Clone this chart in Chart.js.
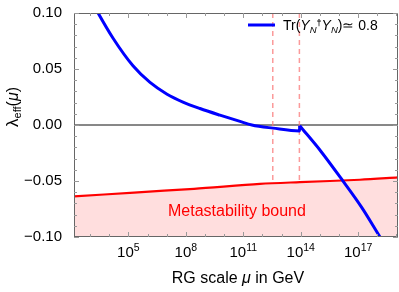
<!DOCTYPE html>
<html>
<head>
<meta charset="utf-8">
<script src="https://cdn.jsdelivr.net/npm/chart.js@4"></script>
<style>
  html, body { margin: 0; padding: 0; background: #fff; }
  #wrap { width: 399px; height: 292px; }
</style>
</head>
<body>
<div id="wrap"><canvas id="chart" width="399" height="292"></canvas></div>
<script>
// x values are log10(mu / GeV)
const xRange = [2.16, 19.08];
const yRange = [-0.1, 0.1];

// lambda_eff running, Tr(Yn+Yn) ~ 0.8 : up to the kink (incl. the jump) ...
const lambdaLowX = [3.2, 3.41, 4.20, 5.24, 6.13, 7.02, 7.85, 8.74, 9.78, 10.83, 11.45, 12.55, 13.94, 13.945];
const lambdaLowY = [0.107, 0.1003, 0.0775, 0.0529, 0.038, 0.0275, 0.0205, 0.0147, 0.0088, 0.0032, 0.0, -0.0028, -0.0053, -0.0006];
// ... and from the kink on
const lambdaHighX = [13.945, 15.05, 16.19, 17.2, 18.14, 18.4];
const lambdaHighY = [-0.0006, -0.0234, -0.0497, -0.074, -0.100, -0.107];

// metastability bound
const boundX = [2.16, 5.3, 8.43, 11.87, 13.96, 17.09, 19.08];
const boundY = [-0.0638, -0.0603, -0.057, -0.0526, -0.051, -0.0489, -0.0468];

// thresholds (dashed)
const thresholds = [12.54, 13.93];

const majorX = [5, 8, 11, 14, 17];
const yTicks = [-0.1, -0.05, 0, 0.05, 0.1];

const FONT = '"Liberation Sans", Arial, Helvetica, sans-serif';

const pts = (xs, ys) => xs.map((x, i) => ({ x: x, y: ys[i] }));
const boundAt = x => {
    for (let i = 1; i < boundX.length; i++) {
        if (x <= boundX[i]) {
            const t = (x - boundX[i - 1]) / (boundX[i] - boundX[i - 1]);
            return boundY[i - 1] + t * (boundY[i] - boundY[i - 1]);
        }
    }
    return boundY[boundY.length - 1];
};

// draws a list of text pieces one after the other
function richText(ctx, x, y, parts, align) {
    let w = 0;
    parts.forEach(p => { ctx.font = p.font; w += ctx.measureText(p.t).width; });
    let cx = align === 'center' ? x - w / 2 : x;
    parts.forEach(p => {
        ctx.font = p.font;
        ctx.fillText(p.t, cx, y + (p.dy || 0));
        cx += ctx.measureText(p.t).width;
    });
}

const extras = {
    id: 'extras',
    afterDraw(chart) {
        const ctx = chart.ctx;
        const a = chart.chartArea;
        const xs = chart.scales.x, ys = chart.scales.y;
        ctx.save();

        // frame
        ctx.strokeStyle = '#666';
        ctx.lineWidth = 1;
        ctx.strokeRect(a.left + 0.5, a.top + 0.5, a.right - a.left - 1, a.bottom - a.top - 1);

        // inner ticks
        ctx.strokeStyle = '#999';
        ctx.beginPath();
        for (let d = 3; d <= 19; d++) {
            const px = Math.round(xs.getPixelForValue(d)) + 0.5;
            const len = majorX.includes(d) ? 5 : 3;
            ctx.moveTo(px, a.bottom); ctx.lineTo(px, a.bottom - len);
            ctx.moveTo(px, a.top); ctx.lineTo(px, a.top + len);
        }
        for (let k = -10; k <= 10; k++) {
            const py = Math.round(ys.getPixelForValue(k / 100)) + 0.5;
            const len = k % 5 === 0 ? 5 : 3;
            ctx.moveTo(a.left, py); ctx.lineTo(a.left + len, py);
            ctx.moveTo(a.right, py); ctx.lineTo(a.right - len, py);
        }
        ctx.stroke();

        ctx.fillStyle = '#000';
        ctx.textBaseline = 'alphabetic';

        // x tick labels 10^n
        majorX.forEach(d => {
            const px = xs.getPixelForValue(d);
            richText(ctx, px, 257, [
                { t: '10', font: '15px ' + FONT },
                { t: String(d), font: '10.5px ' + FONT, dy: -6 }
            ], 'center');
        });

        // x title
        richText(ctx, 238, 283, [
            { t: 'RG scale ', font: '16px ' + FONT },
            { t: 'μ', font: 'italic 16px ' + FONT },
            { t: ' in GeV', font: '16px ' + FONT }
        ], 'center');

        // y title
        ctx.save();
        ctx.translate(18, 107);
        ctx.rotate(-Math.PI / 2);
        richText(ctx, 0, 0, [
            { t: 'λ', font: '17px ' + FONT },
            { t: 'eff', font: '11px ' + FONT, dy: 3 },
            { t: '(', font: '16px ' + FONT },
            { t: 'μ', font: 'italic 16px ' + FONT },
            { t: ')', font: '16px ' + FONT }
        ], 'center');
        ctx.restore();

        // region label
        ctx.fillStyle = '#ff0000';
        richText(ctx, xs.getPixelForValue(10.67), ys.getPixelForValue(-0.0815), [
            { t: 'Metastability bound', font: '16px ' + FONT }
        ], 'center');

        // legend
        ctx.strokeStyle = '#0000ff';
        ctx.lineWidth = 3;
        ctx.beginPath();
        ctx.moveTo(248, 25); ctx.lineTo(275, 25);
        ctx.stroke();
        ctx.fillStyle = '#000';
        richText(ctx, 283, 30, [
            { t: 'Tr(', font: '14px ' + FONT },
            { t: 'Y', font: 'italic 14px ' + FONT },
            { t: 'N', font: 'italic 9.5px ' + FONT, dy: 3 },
            { t: '†', font: 'bold 9px ' + FONT, dy: -4 },
            { t: 'Y', font: 'italic 14px ' + FONT },
            { t: 'N', font: 'italic 9.5px ' + FONT, dy: 3 },
            { t: ')≃ 0.8', font: '14px ' + FONT }
        ]);

        ctx.restore();
    }
};

const dashStyle = {
    borderColor: 'rgba(250, 120, 120, 0.75)',
    borderWidth: 1.5,
    borderDash: [5, 4],
    pointRadius: 0,
    fill: false
};

const blueStyle = {
    borderColor: '#0000ff',
    borderWidth: 3,
    pointRadius: 0,
    cubicInterpolationMode: 'monotone',
    fill: false
};

new Chart(document.getElementById('chart').getContext('2d'), {
    type: 'line',
    data: {
        datasets: [
            Object.assign({ label: 'Tr(YN†YN) ≃ 0.8', data: pts(lambdaLowX, lambdaLowY) }, blueStyle),
            Object.assign({ label: 'Tr(YN†YN) ≃ 0.8 (above)', data: pts(lambdaHighX, lambdaHighY) }, blueStyle),
            {
                label: 'Metastability bound',
                data: pts(boundX, boundY),
                borderColor: '#ff0000',
                borderWidth: 2.2,
                backgroundColor: 'rgba(255, 0, 0, 0.13)',
                pointRadius: 0,
                tension: 0.3,
                fill: 'start'
            },
            Object.assign({ label: 't1', data: [{ x: thresholds[0], y: yRange[1] }, { x: thresholds[0], y: boundAt(thresholds[0]) }] }, dashStyle),
            Object.assign({ label: 't2', data: [{ x: thresholds[1], y: yRange[1] }, { x: thresholds[1], y: boundAt(thresholds[1]) }] }, dashStyle),
            {
                label: 'zero',
                data: [{ x: xRange[0], y: 0 }, { x: xRange[1], y: 0 }],
                borderColor: '#111',
                borderWidth: 1,
                pointRadius: 0,
                fill: false
            }
        ]
    },
    options: {
        responsive: false,
        animation: false,
        layout: { padding: { top: 9, right: 1, left: 0, bottom: 0 } },
        plugins: {
            legend: { display: false },
            tooltip: { enabled: false }
        },
        scales: {
            x: {
                type: 'linear',
                min: xRange[0],
                max: xRange[1],
                grid: { display: false },
                border: { display: false },
                ticks: { display: false },
                afterFit: s => { s.height = 55; }
            },
            y: {
                type: 'linear',
                min: yRange[0],
                max: yRange[1],
                grid: { display: false },
                border: { display: false },
                afterBuildTicks: s => { s.ticks = yTicks.map(v => ({ value: v })); },
                ticks: {
                    padding: 4,
                    color: '#000',
                    font: { family: FONT, size: 15 },
                    callback: v => v.toFixed(2).replace('-', '−')
                },
                afterFit: s => { s.width = 74; }
            }
        }
    },
    plugins: [extras]
});
</script>
</body>
</html>
